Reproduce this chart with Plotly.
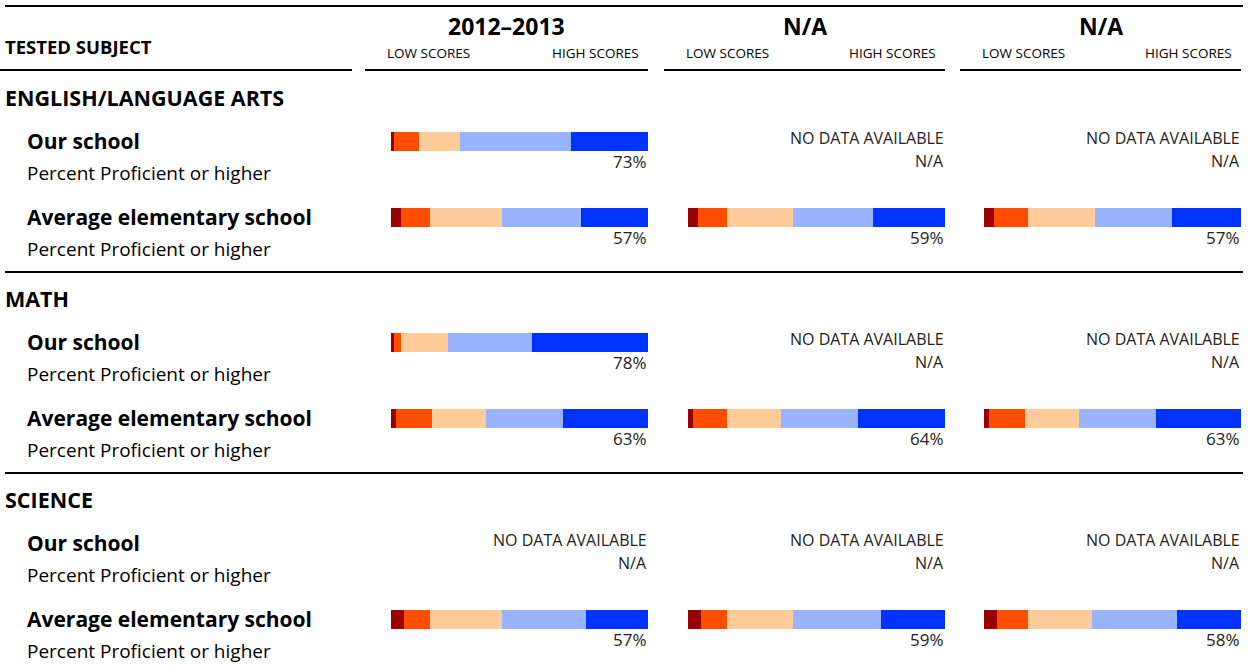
import plotly.graph_objects as go

W, H = 1248, 666
FONT = 'Open Sans'

colors = ['#990000', '#ff4d00', '#ffcc99', '#99b3ff', '#0033ff']
levels = ['Far Below Basic', 'Below Basic', 'Basic', 'Proficient', 'Advanced']

subjects = ['ENGLISH/LANGUAGE ARTS', 'MATH', 'SCIENCE']
years = ['2012\u20132013', 'N/A', 'N/A']
row_names = ['Our school', 'Average elementary school']

# percent of students at each level, per year column (None = no data)
ela_our = [[1, 10, 16, 43, 30], None, None]
ela_avg = [[4, 11, 28, 31, 26], [4, 11, 26, 31, 28], [4, 13, 26, 30, 27]]
math_our = [[1, 3, 18, 33, 45], None, None]
math_avg = [[2, 14, 21, 30, 33], [2, 13, 21, 30, 34], [2, 14, 21, 30, 33]]
sci_our = [None, None, None]
sci_avg = [[5, 10, 28, 33, 24], [5, 10, 26, 34, 25], [5, 12, 25, 33, 25]]

data = [[ela_our, ela_avg], [math_our, math_avg], [sci_our, sci_avg]]

# column layout in pixels
col_bar = [(391, 648), (688, 945), (984, 1241)]
col_line = [(365, 648), (664, 945), (960, 1241)]


def px(x):
    return x / W


fig = go.Figure()
annots = []
shapes = []


def text(x, y, s, size, bold=False, anchor='left', color='#000000'):
    annots.append(dict(
        x=px(x), y=y, xref='paper', yref='y', text='<b>%s</b>' % s if bold else s,
        showarrow=False, xanchor=anchor, yanchor='middle',
        font=dict(family=FONT, size=size, color=color)
    ))


def hline(x0, x1, y, w=2):
    shapes.append(dict(type='line', xref='paper', yref='y', x0=px(x0), x1=px(x1),
                       y0=y, y1=y, line=dict(color='#000000', width=w)))


# header
hline(5, 1243, 6)
text(3, 46, 'TESTED SUBJECT', 18.5, bold=True)
hline(0, 352, 70)
for c, yr in enumerate(years):
    l0, l1 = col_line[c]
    hline(l0, l1, 70)
    text((l0 + l1) / 2, 26, yr, 23, bold=True, anchor='center')
    text(l0 + 20, 53, 'LOW SCORES', 13.5)
    text(l1 - 7, 53, 'HIGH SCORES', 13.5, anchor='right')

# rows
for s, subj in enumerate(subjects):
    top = 97 + s * 201
    if s > 0:
        hline(5, 1243, top - 26)
    text(3, top, subj, 21.5, bold=True)
    for r, name in enumerate(row_names):
        y = top + 44 + r * 76
        text(25, y, name, 21, bold=True)
        text(25, y + 32, 'Percent Proficient or higher', 19)
        for c in range(3):
            vals = data[s][r][c]
            x1 = col_bar[c][1]
            if vals is None:
                text(x1 + 1, y - 3, 'NO DATA AVAILABLE', 16, anchor='right', color='#222222')
                text(x1 + 1, y + 20, 'N/A', 16, anchor='right', color='#222222')
            else:
                text(x1 + 1, y + 20, '%d%%' % (vals[3] + vals[4]), 17, anchor='right', color='#222222')

# stacked bars, one trace per level per column
for c in range(3):
    axis = 'x' if c == 0 else 'x%d' % (c + 1)
    for k, lev in enumerate(levels):
        xs, ys = [], []
        for s in range(3):
            top = 97 + s * 201
            for r in range(2):
                vals = data[s][r][c]
                if vals is None:
                    continue
                xs.append(vals[k])
                ys.append(top + 44 + r * 76)
        fig.add_trace(go.Bar(
            x=xs, y=ys, orientation='h', width=19, name=lev,
            marker=dict(color=colors[k], line=dict(width=0)),
            xaxis=axis, yaxis='y', showlegend=False
        ))

layout = dict(
    width=W, height=H, barmode='stack',
    margin=dict(l=0, r=0, t=0, b=0),
    plot_bgcolor='white', paper_bgcolor='white',
    yaxis=dict(range=[H, 0], domain=[0, 1], visible=False, fixedrange=True),
    annotations=annots, shapes=shapes,
)
for c in range(3):
    key = 'xaxis' if c == 0 else 'xaxis%d' % (c + 1)
    layout[key] = dict(domain=[px(col_bar[c][0]), px(col_bar[c][1])], range=[0, 100],
                       visible=False, anchor='y', fixedrange=True)
fig.update_layout(**layout)

fig.write_html('out.html', config={'displayModeBar': False},
               post_script="document.body.style.margin='0px';")
